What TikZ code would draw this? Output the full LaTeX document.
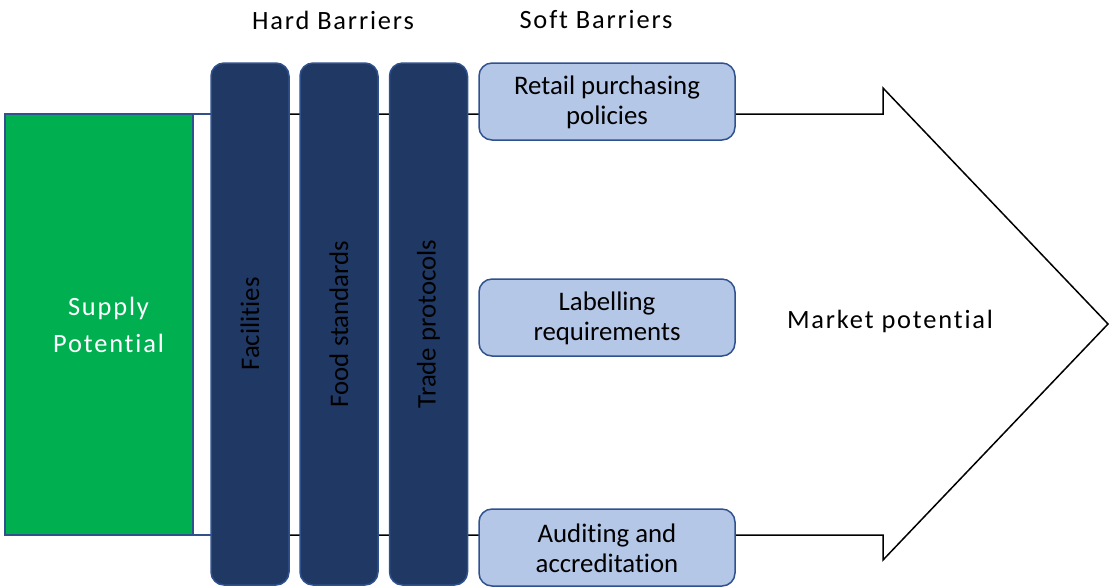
\documentclass[tikz,border=0pt]{standalone}
\usepackage{fontspec}
\setmainfont{Carlito}[Ligatures=NoCommon]
\newfontfamily\widefont[LetterSpace=7,Ligatures=NoCommon]{Carlito}
\usetikzlibrary{positioning}

\definecolor{barblue}{HTML}{203864}
\definecolor{edgeblue}{HTML}{2F528F}
\definecolor{softblue}{HTML}{B4C7E7}
\definecolor{supplygreen}{HTML}{00B050}

\begin{document}
\begin{tikzpicture}[x=0.5pt,y=-0.5pt,
    hardbar/.style={draw=edgeblue,fill=barblue,line width=0.75pt,
      rounded corners=6.5pt,minimum width=261pt,minimum height=39pt,
      inner sep=0pt,rotate=90,font=\fontsize{13.4}{15}\selectfont},
    softbox/.style={draw=edgeblue,fill=softblue,line width=0.75pt,
      rounded corners=6.5pt,minimum width=128pt,minimum height=38.5pt,
      inner sep=0pt,align=center,font=\fontsize{13.4}{15}\selectfont},
    heading/.style={font=\widefont\fontsize{13.2}{15}\selectfont}]
  \useasboundingbox (0,0) rectangle (1109,586);

  % big arrow behind everything
  \draw[line width=0.75pt] (212,114)--(883,114)--(883,88)--(1108,324)
    --(883,560)--(883,535)--(212,535);

  % supply block, green part with a black edge
  \node[draw=edgeblue,line width=0.75pt,fill=white,inner sep=0pt,
    minimum width=103.5pt,minimum height=210.5pt,text=white,align=center,
    font=\widefont\fontsize{13.2}{17.5}\selectfont,
    path picture={
      \fill[supplygreen] (path picture bounding box.south west)
        rectangle ([xshift=-9.5pt]path picture bounding box.north east);
      \draw[line width=0.75pt] ([xshift=-9.5pt]path picture bounding box.south east)
        --([xshift=-9.5pt]path picture bounding box.north east);
    }] (supply) at (108.5,324.5) {\raisebox{1pt}{Supply}\\Potential};

  % hard barriers
  \node[hardbar] (facil) at (250,324) {Facilities};
  \node[hardbar] (food) at (339,324) {Food standards};
  \node[hardbar] (trade) at (428.5,324) {Trade protocols};

  % soft barriers
  \node[softbox] (retail) at (607,101.5) {\strut Retail purchasing\\policies};
  \node[softbox] (label) at (607,317.5) {\strut Labelling\\requirements};
  \node[softbox] (audit) at (607,547.5) {\strut Auditing and\\accreditation};

  \node[heading] (hard) at (333,20) {Hard Barriers};
  \node[heading] (soft) at (596,20) {Soft Barriers};
  \node[heading] (market) at (890,321) {Market potential};
\end{tikzpicture}
\end{document}
